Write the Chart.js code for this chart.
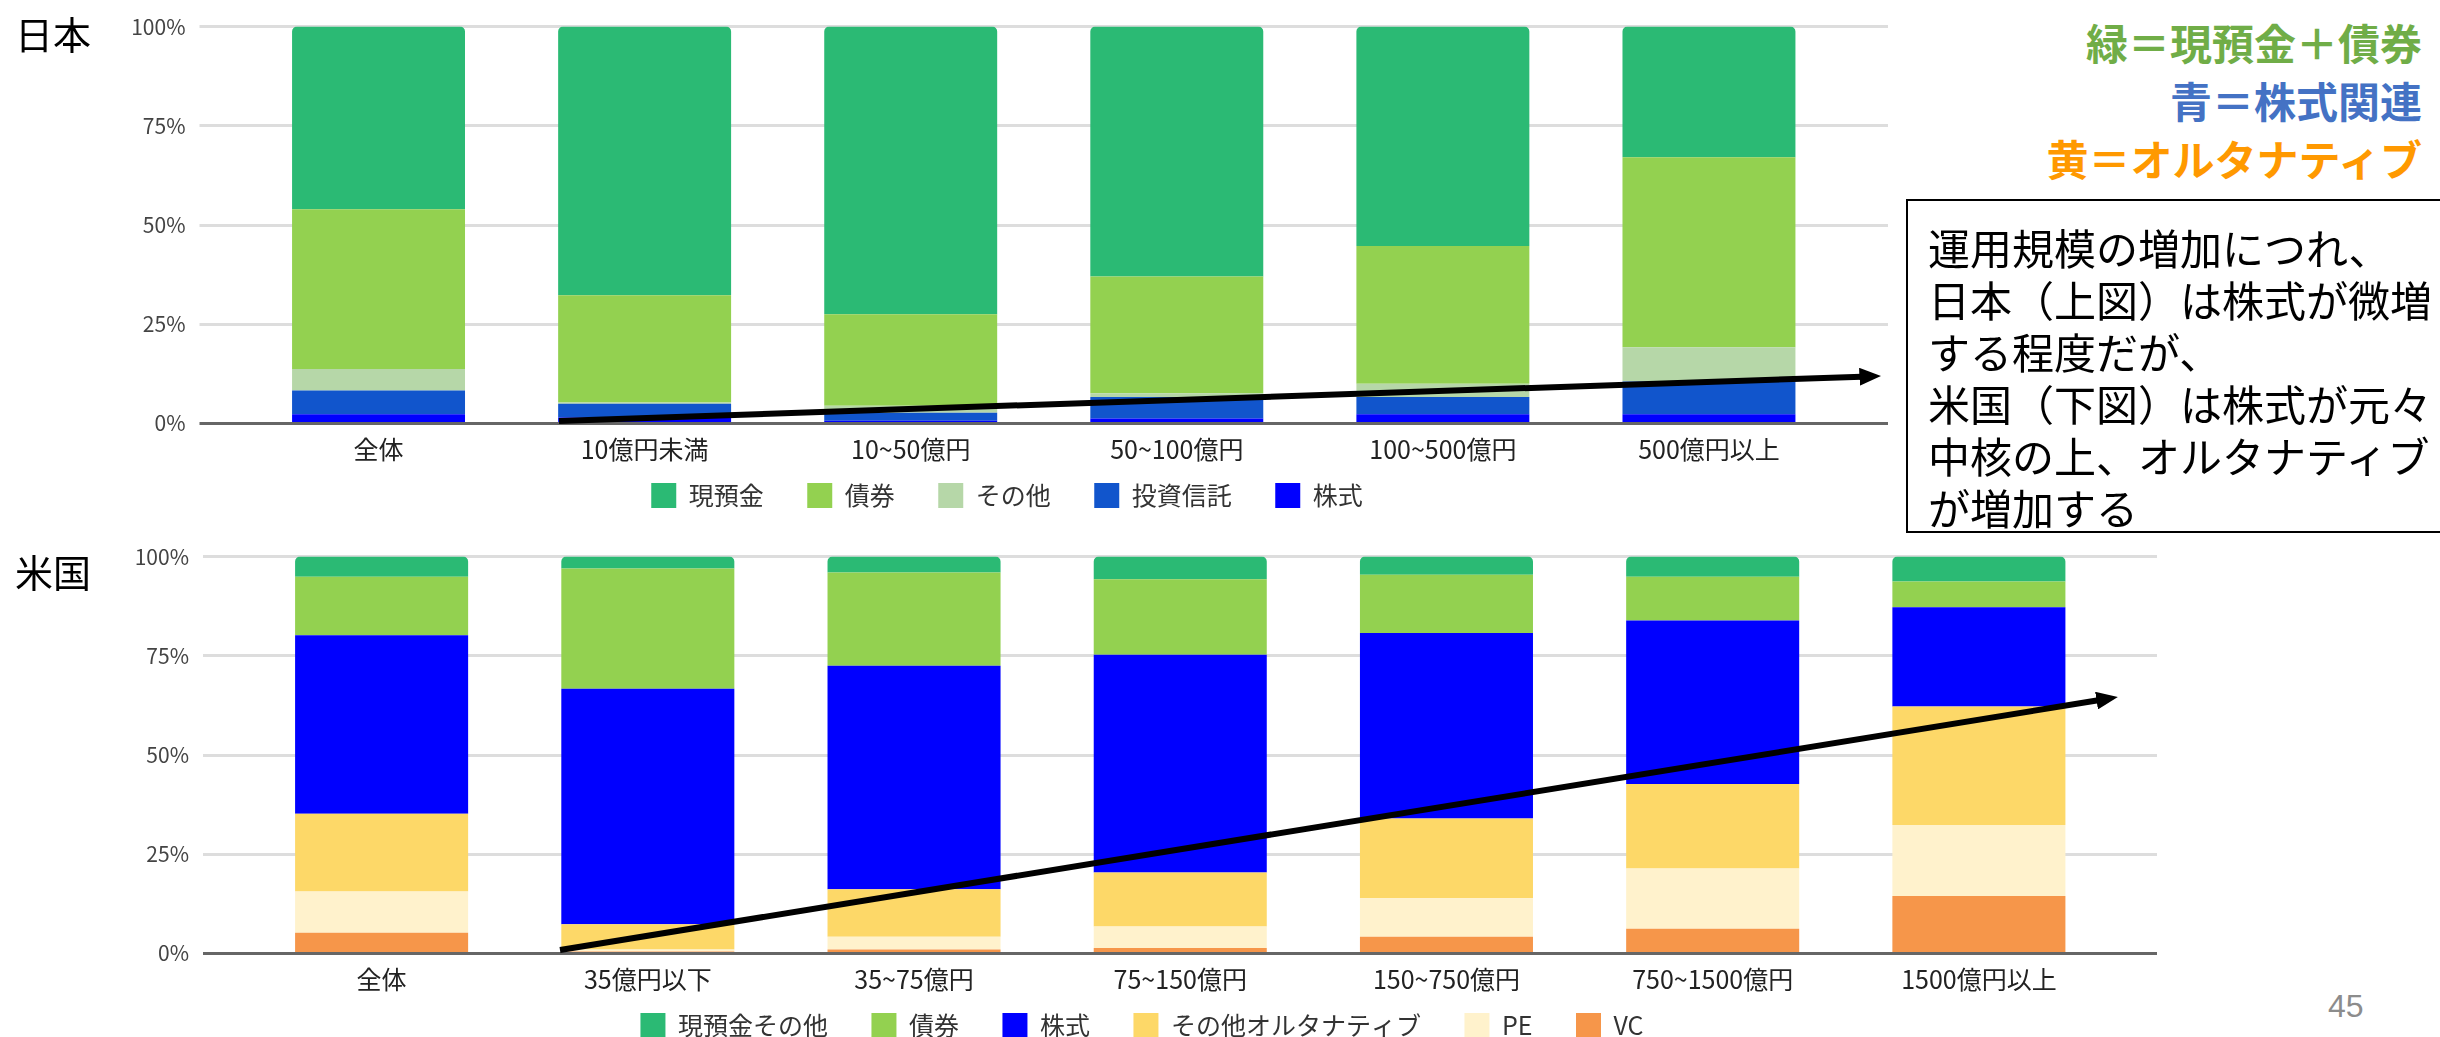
<!DOCTYPE html>
<html lang="ja">
<head>
<meta charset="utf-8">
<script src="https://cdn.jsdelivr.net/npm/chart.js@4.4.1/dist/chart.umd.min.js"></script>
<style>
  html, body { margin: 0; padding: 0; background: #fff; }
  body {
    width: 2440px; height: 1037px; position: relative; overflow: hidden;
    font-family: "Noto Sans CJK JP", "Noto Sans", sans-serif;
  }
  canvas { position: absolute; left: 0; }
  #jpChart { top: 0; }
  #usChart { top: 530px; }
  .country { position: absolute; left: 15px; font-size: 38px; line-height: 1; color: #000; }
  .key {
    position: absolute; right: 18px; top: 13px; text-align: right;
    font-size: 42px; line-height: 58px; font-weight: 700;
  }
  .note {
    position: absolute; left: 1906px; top: 199px; width: 600px; height: 334px;
    box-sizing: border-box; border: 2px solid #000; padding: 20px 0 0 20px;
    font-size: 42px; line-height: 52px; color: #000; white-space: nowrap;
  }
  .page { position: absolute; left: 2328px; top: 988px; font-family: "Liberation Sans", sans-serif; font-size: 32px; color: #8c8c8c; }
  svg { position: absolute; left: 0; top: 0; pointer-events: none; }
</style>
</head>
<body>
<canvas id="jpChart" width="1890" height="518"></canvas>
<canvas id="usChart" width="2170" height="518"></canvas>

<div class="country" style="top:14px">日本</div>
<div class="country" style="top:552px">米国</div>

<div class="key">
  <div style="color:#70ad47">緑＝現預金＋債券</div>
  <div style="color:#4472c4">青＝株式関連</div>
  <div style="color:#ff9900">黄＝オルタナティブ</div>
</div>

<div class="note">
  運用規模の増加につれ、<br>
  日本（上図）は株式が微増<br>
  する程度だが、<br>
  米国（下図）は株式が元々<br>
  中核の上、オルタナティブ<br>
  が増加する
</div>

<div class="page">45</div>

<svg width="2440" height="1037">
  <defs>
    <marker id="head" markerWidth="3.6" markerHeight="3" refX="1.6" refY="1.5" orient="auto" markerUnits="strokeWidth">
      <path d="M0,0 L3.6,1.5 L0,3 z" fill="#000"/>
    </marker>
  </defs>
  <line x1="559" y1="421" x2="1869" y2="376.4" stroke="#000" stroke-width="6" marker-end="url(#head)"/>
  <line x1="560" y1="950" x2="2106" y2="699" stroke="#000" stroke-width="6" marker-end="url(#head)"/>
</svg>

<script>
// 日本：運用規模別の資産配分 (%)
const jpLabels = ['全体', '10億円未満', '10~50億円', '50~100億円', '100~500億円', '500億円以上'];
const jpStock  = [2.3, 1.5, 0.7, 1.25, 2.3, 2.3];
const jpTrust  = [6.0, 3.5, 2.0, 5.4, 4.4, 8.3];
const jpOther  = [5.4, 0.3, 1.8, 1.0, 3.3, 8.6];
const jpBond   = [40.3, 27.0, 23.0, 29.4, 34.75, 47.9];
const jpCash   = [46.0, 67.7, 72.5, 62.95, 55.25, 32.9];

// 米国：運用規模別の資産配分 (%)
const usLabels = ['全体', '35億円以下', '35~75億円', '75~150億円', '150~750億円', '750~1500億円', '1500億円以上'];
const usVC     = [5.2, 0.5, 1.0, 1.4, 4.2, 6.25, 14.5];
const usPE     = [10.4, 0.5, 3.2, 5.4, 9.7, 15.15, 17.9];
const usAlt    = [19.6, 6.4, 12.0, 13.6, 20.1, 21.3, 29.85];
const usStock  = [45.0, 59.3, 56.3, 54.9, 46.75, 41.2, 25.0];
const usBond   = [14.7, 30.3, 23.5, 19.0, 14.65, 11.0, 6.5];
const usCash   = [5.1, 3.0, 4.0, 5.7, 4.6, 5.1, 6.25];

const yTicks = [0, 25, 50, 75, 100];

Chart.defaults.font.family = '"Noto Sans CJK JP", "Noto Sans", sans-serif';
Chart.defaults.animation = false;

const gridColor = c => (c.tick && c.tick.value === 0) ? '#666666' : '#dddddd';

// legend items get a trailing ideographic space so the spacing between them matches
function legendLabels(chart) {
  const items = Chart.defaults.plugins.legend.labels.generateLabels(chart);
  items.forEach(it => { if (it.datasetIndex !== 0) it.text += '\u3000'; });
  return items;
}

function makeChart(id, labels, series, lay) {
  const top = series.length - 1;
  const datasets = series.map((s, i) => ({
    label: s[0],
    data: s[1],
    backgroundColor: s[2],
    borderWidth: 0,
    borderRadius: i === top ? { topLeft: 5, topRight: 5, bottomLeft: 0, bottomRight: 0 } : 0,
    barPercentage: 0.65,
    categoryPercentage: 1
  }));

  return new Chart(document.getElementById(id), {
    type: 'bar',
    data: { labels: labels, datasets: datasets },
    options: {
      responsive: false,
      layout: { padding: { left: lay.padLeft, right: lay.padRight, top: 24, bottom: 0 } },
      plugins: {
        tooltip: { enabled: false },
        legend: {
          position: 'bottom',
          reverse: true,
          labels: {
            boxWidth: 25, boxHeight: 25, padding: 18.5, color: '#333', font: { size: 25 },
            generateLabels: legendLabels
          }
        }
      },
      scales: {
        x: {
          stacked: true,
          offset: true,
          grid: { display: false, drawTicks: false },
          border: { display: false },
          ticks: { color: '#222', font: { size: 25 }, padding: 11, maxRotation: 0, autoSkip: false },
          afterFit: s => { s.height = 41; }
        },
        y: {
          stacked: true,
          min: 0,
          max: 100,
          afterBuildTicks: s => { s.ticks = yTicks.map(v => ({ value: v })); },
          ticks: { color: '#444', font: { size: 21 }, padding: 14, callback: v => v + '%' },
          grid: { color: gridColor, lineWidth: 3, tickLength: lay.extLeft },
          border: { display: false },
          afterFit: s => { s.width = lay.yWidth; }
        },
        y2: {
          position: 'right',
          min: 0,
          max: 100,
          afterBuildTicks: s => { s.ticks = yTicks.map(v => ({ value: v })); },
          ticks: { display: false },
          grid: { drawOnChartArea: false, color: gridColor, lineWidth: 3, tickLength: lay.extRight },
          border: { display: false },
          afterFit: s => { s.width = lay.extRight; }
        }
      }
    }
  });
}

makeChart('jpChart', jpLabels, [
  ['株式', jpStock, '#0000ff'],
  ['投資信託', jpTrust, '#1155cc'],
  ['その他', jpOther, '#b6d7a8'],
  ['債券', jpBond, '#93d150'],
  ['現預金', jpCash, '#2bba74']
], { padLeft: 126, padRight: 2, yWidth: 119.5, extLeft: 46, extRight: 46 });

makeChart('usChart', usLabels, [
  ['VC', usVC, '#f6964a'],
  ['PE', usPE, '#fff2cc'],
  ['その他オルタナティブ', usAlt, '#fdd868'],
  ['株式', usStock, '#0000ff'],
  ['債券', usBond, '#93d150'],
  ['現預金その他', usCash, '#2bba74']
], { padLeft: 127, padRight: 13, yWidth: 121.5, extLeft: 45.5, extRight: 45 });
</script>
</body>
</html>
